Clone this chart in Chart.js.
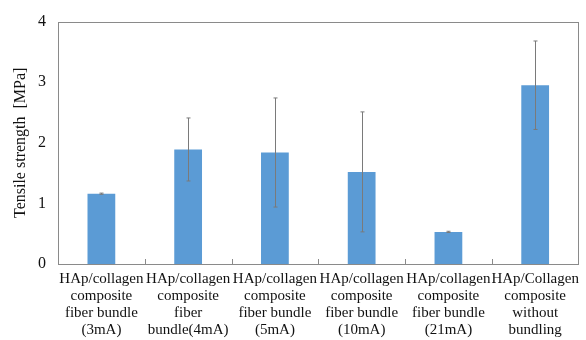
<html>
  <head>
    <script src="https://cdn.jsdelivr.net/npm/chart.js@4.4.0/dist/chart.umd.min.js"></script>
    <style>
      body { margin: 0; background: #fff; }
    </style>
  </head>
  <body>
    <canvas id="myChart" width="586" height="340"></canvas>
    <script>
      var labels = [
        ["HAp/collagen", "composite", "fiber bundle", "(3mA)"],
        ["HAp/collagen", "composite", "fiber", "bundle(4mA)"],
        ["HAp/collagen", "composite", "fiber bundle", "(5mA)"],
        ["HAp/collagen", "composite", "fiber bundle", "(10mA)"],
        ["HAp/collagen", "composite", "fiber bundle", "(21mA)"],
        ["HAp/Collagen", "composite", "without", "bundling"]
      ];
      var strength = [1.16, 1.89, 1.84, 1.52, 0.53, 2.95];
      var errors = [0.01, 0.52, 0.9, 0.99, 0.01, 0.73];
      var yTicks = [0, 1, 2, 3, 4];

      var serif = "'Liberation Serif', 'Times New Roman', serif";

      // error bars + inward boundary ticks + frame
      var extras = {
        id: "extras",
        afterDatasetsDraw: function (chart) {
          var ctx = chart.ctx;
          var x = chart.scales.x, y = chart.scales.y;
          var area = chart.chartArea;
          var meta = chart.getDatasetMeta(0);
          ctx.save();
          ctx.strokeStyle = "#7a7a7a";
          ctx.lineWidth = 1;
          for (var i = 0; i < strength.length; i++) {
            var bx = Math.round(meta.data[i].x) + 0.5;
            var top = y.getPixelForValue(strength[i] + errors[i]);
            var bot = y.getPixelForValue(strength[i] - errors[i]);
            ctx.beginPath();
            ctx.moveTo(bx, top); ctx.lineTo(bx, bot);
            ctx.moveTo(bx - 2, top); ctx.lineTo(bx + 2, top);
            ctx.moveTo(bx - 2, bot); ctx.lineTo(bx + 2, bot);
            ctx.stroke();
          }
          // frame
          ctx.strokeStyle = "#8a8a8a";
          ctx.strokeRect(Math.round(area.left) + 0.5, Math.round(area.top) + 0.5,
            Math.round(area.right - area.left) - 1, Math.round(area.bottom - area.top));
          // boundary ticks
          for (var j = 0; j < strength.length - 1; j++) {
            var tx = Math.round((x.getPixelForValue(j) + x.getPixelForValue(j + 1)) / 2) + 0.5;
            ctx.beginPath();
            ctx.moveTo(tx, area.bottom);
            ctx.lineTo(tx, area.bottom - 5);
            ctx.stroke();
          }
          ctx.restore();
        }
      };

      var ctx = document.getElementById("myChart").getContext("2d");
      var myChart = new Chart(ctx, {
        type: "bar",
        data: {
          labels: labels,
          datasets: [
            {
              label: "Tensile strength",
              data: strength,
              backgroundColor: "#5b9bd5",
              barPercentage: 0.32,
              categoryPercentage: 1.0
            }
          ]
        },
        options: {
          responsive: false,
          animation: false,
          layout: { padding: { top: 17, right: 1, left: 0, bottom: 0 } },
          plugins: {
            legend: { display: false },
            tooltip: { enabled: false }
          },
          scales: {
            x: {
              grid: { display: false, drawTicks: false },
              border: { display: false },
              ticks: {
                color: "#111",
                padding: 7,
                maxRotation: 0,
                autoSkip: false,
                font: { family: serif, size: 15, lineHeight: 1.13 }
              },
              afterFit: function (s) { s.height = 76; }
            },
            y: {
              min: 0,
              max: 4,
              afterBuildTicks: function (s) {
                s.ticks = yTicks.map(function (v) { return { value: v }; });
              },
              grid: { display: false, drawTicks: false },
              border: { display: false },
              ticks: {
                color: "#111",
                padding: 12,
                font: { family: serif, size: 16 }
              },
              title: {
                display: true,
                text: "Tensile strength  [MPa]",
                color: "#111",
                padding: { top: 11, bottom: 0 },
                font: { family: serif, size: 16 }
              },
              afterFit: function (s) { s.width = 58; }
            }
          }
        },
        plugins: [extras]
      });
    </script>
  </body>
</html>
